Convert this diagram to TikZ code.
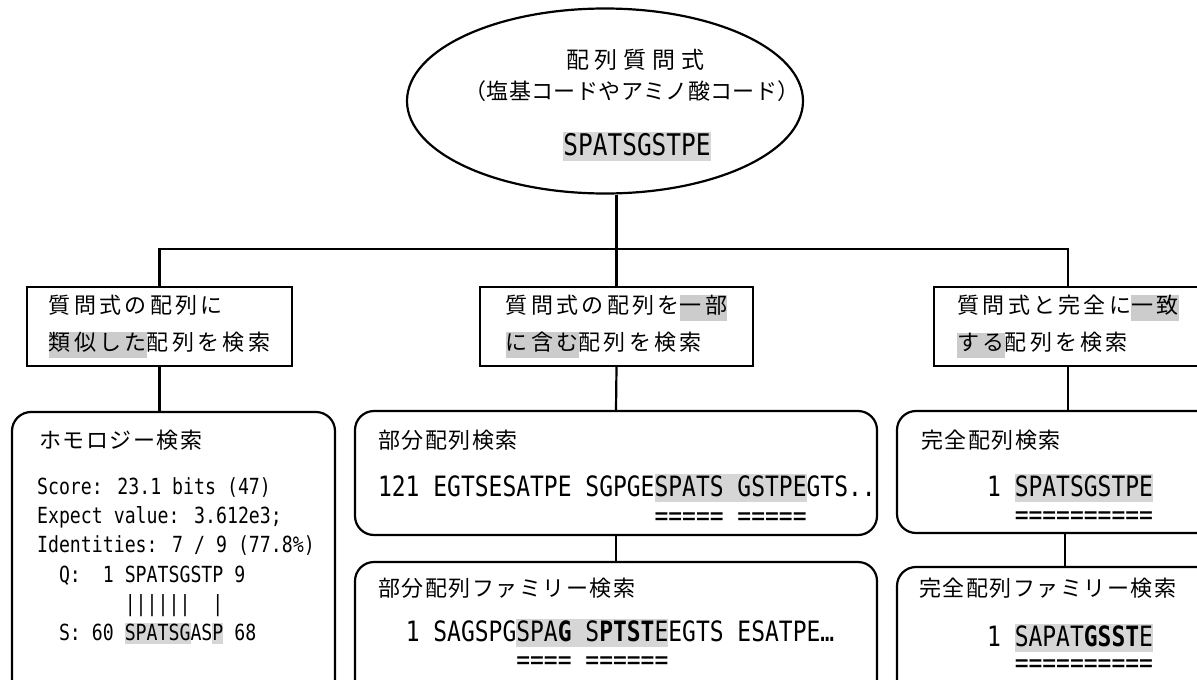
\documentclass[tikz,border=0pt]{standalone}
\usepackage{fontspec}
\setmainfont{Noto Sans CJK JP}
\newfontfamily\jpf{Noto Sans CJK JP}
\newfontfamily\seqf[FakeStretch=0.82]{DejaVu Sans Mono}
\usetikzlibrary{shapes.geometric}
\definecolor{hlgray}{gray}{0.84}
\definecolor{hljgray}{gray}{0.80}
% grey marks behind matched letters
\newcommand\hl[1]{{\setlength\fboxsep{0pt}\colorbox{hlgray}{\rule[-0.2em]{0pt}{0.98em}#1}}}
\newcommand\hlj[1]{{\setlength\fboxsep{0pt}\colorbox{hljgray}{\rule[-0.35em]{0pt}{1.11em}#1}}}
\newcommand\js{\rule[-0.35em]{0pt}{1.11em}}
\begin{document}
\begin{tikzpicture}[x=1pt,y=-1pt,line width=2.2pt,
    qbox/.style={draw,rectangle,align=left,inner sep=0pt,minimum height=79pt,
        font=\jpf\fontsize{22}{37}\selectfont\addfontfeature{LetterSpace=15}},
    rbox/.style={draw,rounded corners=19pt,inner sep=0pt},
    ttl/.style={anchor=west,inner sep=0pt,
        font=\jpf\fontsize{22}{26}\selectfont\addfontfeature{LetterSpace=7}},
    sq/.style={anchor=base west,inner sep=0pt,font=\seqf\fontsize{28}{30}\selectfont},
    hq/.style={anchor=base west,inner sep=0pt,font=\seqf\fontsize{22.2}{29}\selectfont}]
    \useasboundingbox (0,0) rectangle (1197,680);
    \clip (0,0) rectangle (1197,680);

    % query
    \node[draw,ellipse,minimum width=396pt,minimum height=185pt,inner sep=0pt] (query) at (605,101) {};
    \node[inner sep=0pt,font=\jpf\fontsize{23}{26}\selectfont\addfontfeature{LetterSpace=25}] (qtitle) at (635,60) {配列質問式};
    \node[inner sep=0pt,font=\jpf\fontsize{22}{26}\selectfont\addfontfeature{LetterSpace=2}] (qsub) at (632,91) {（塩基コードやアミノ酸コード）};
    \node[anchor=base,inner sep=0pt,font=\seqf\fontsize{29.8}{30}\selectfont] (qseq) at (637,155) {\hl{SPATSGSTPE}};

    % three kinds of question
    \node[qbox,minimum width=265pt] (simq) at (159.5,326.5) {\js 質問式の配列に\\\js\hlj{類似した}配列を検索};
    \node[qbox,minimum width=273pt] (subq) at (616.5,326.5) {\js 質問式の配列を\hlj{一部}\\\hlj{に含む}配列を検索};
    \node[qbox,minimum width=268pt] (exq) at (1068,326.5) {\js 質問式と完全に\hlj{一致}\\\hlj{する}配列を検索};

    % search boxes
    \node[rbox,minimum width=323pt,minimum height=288pt] (homs) at (173.5,556) {};
    \node[rbox,minimum width=522pt,minimum height=124pt] (subs) at (616,473) {};
    \node[rbox,minimum width=522pt,minimum height=138pt] (subfams) at (616,631) {};
    \node[rbox,minimum width=336pt,minimum height=122pt] (exs) at (1065,472) {};
    \node[rbox,minimum width=336pt,minimum height=133pt] (exfams) at (1065,633.5) {};

    \coordinate (bus) at (616,249);
    \draw (query.south -| subq.north) -- (subq.north);
    \draw (simq.north) |- (bus) -| (exq.north);
    \draw (simq.south) -- (simq.south |- homs.north);
    \draw (subq.south) -- (subs.north);
    \draw (exq.south) -- (exq.south |- exs.north);
    \draw (subs.south) -- (subfams.north);
    \draw (exs.south) -- (exfams.north);

    % homology
    \node[ttl] (homt) at (38,440) {ホモロジー検索};
    \node[hq] (h1) at (36,494) {Score: 23.1 bits (47)};
    \node[hq] (h2) at (36,523) {Expect value: 3.612e3;};
    \node[hq] (h3) at (36,552) {Identities: 7 / 9 (77.8\%)};
    \node[hq] (h4) at (36,582) {~~Q:~~1 SPATSGSTP 9};
    \node[hq] (h5) at (36,611) {~~~~~~~~||||||~~|};
    \node[hq] (h6) at (36,640) {~~S: 60 \hl{SPATSG}AS\hl{P} 68};

    % part
    \node[ttl] (subt) at (377,440) {部分配列検索};
    \node[sq] (sub1) at (377,496) {121 EGTSESATPE SGPGE\hl{SPATS GSTPE}GTS..};
    \node[sq] (sub2) at (377,525) {~~~~~~~~~~~~~~~~~~~~=====~=====};
    \node[ttl] (subfamt) at (377,588) {部分配列ファミリー検索};
    \node[sq] (subfam1) at (377,641) {~~1 SAGSPG\hl{SPA\textbf{G} S\textbf{PTST}E}EGTS ESATPE…};
    \node[sq] (subfam2) at (377,669) {~~~~~~~~~~====~======};

    % exact
    \node[ttl] (ext) at (920,440) {完全配列検索};
    \node[sq] (ex1) at (986,496) {1 \hl{SPATSGSTPE}};
    \node[sq] (ex2) at (986,524) {~~==========};
    \node[ttl] (exfam) at (918,588) {完全配列ファミリー検索};
    \node[sq] (exfam1) at (986,646) {1 \hl{SAPAT\textbf{GSST}E}};
    \node[sq] (exfam2) at (986,672) {~~==========};
\end{tikzpicture}
\end{document}
